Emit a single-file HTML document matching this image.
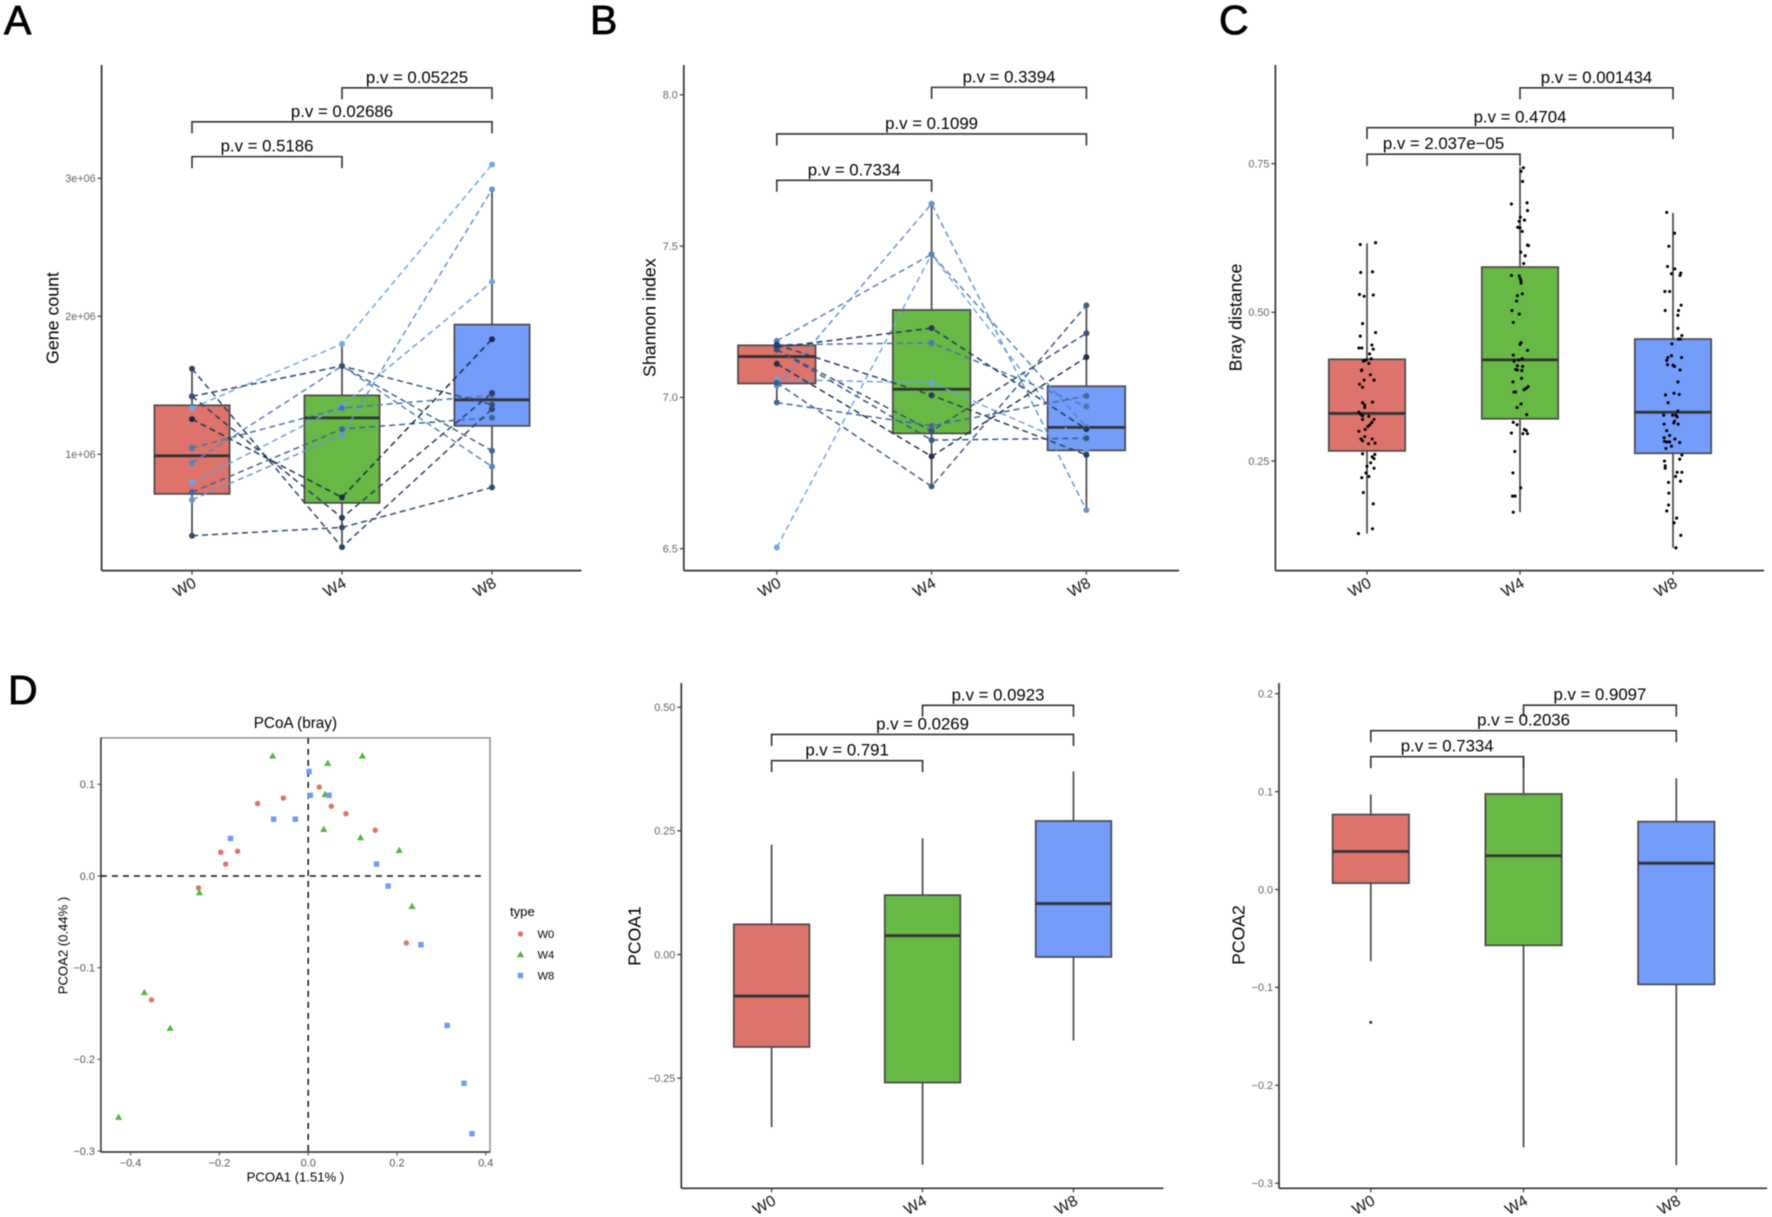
<!DOCTYPE html>
<html>
<head>
<meta charset="utf-8">
<title>Multi-panel gene count and PCoA figure</title>
<style>
html,body{margin:0;padding:0;background:#fff;}
svg{display:block;font-family:"Liberation Sans",Arial,sans-serif;filter:blur(0.4px);}
</style>
</head>
<body>
<svg id="chart" width="1772" height="1217" viewBox="0 0 1772 1217" xmlns="http://www.w3.org/2000/svg">
<rect x="0" y="0" width="1772" height="1217" fill="#fff"/>
<g font-size="41" fill="#000" stroke="#000" stroke-width="0.8">
<text x="4" y="34">A</text>
<text x="590" y="34">B</text>
<text x="1219" y="34">C</text>
<text x="8" y="704">D</text>
</g>
</svg>
<script>
const categories = ['W0','W4','W8'];
const bracketPairs = [[0,1],[0,2],[1,2]];

/* Panel A: Gene count */
const aTickValues = [1000000,2000000,3000000];
const aTickLabels = ['1e+06','2e+06','3e+06'];
const aLow = [410000,327000,760000];
const aQ1 = [713000,648000,1206000];
const aMedian = [989000,1264000,1395000];
const aQ3 = [1355000,1427000,1940000];
const aHigh = [1620000,1800000,2920000];
const aBracketLevels = [3157000,3409000,3656000];
const aBracketLabels = ['p.v = 0.5186','p.v = 0.02686','p.v = 0.05225'];
const aSeriesW0 = [1335000,670000,794000,937000,1420000,1046000,725000,1620000,1420000,1255000,410000,1420000];
const aSeriesW4 = [1800000,1140000,1352000,1640000,1640000,1335000,1183000,327000,540000,688000,470000,1640000];
const aSeriesW8 = [3100000,2920000,2250000,911000,1026000,1427000,1266000,1327000,1444000,1834000,760000,1360000];
const aShade = [1,0.85,0.95,0.7,0.45,0.6,0.45,0.2,0.15,0,0.25,0.3];

/* Panel B: Shannon index */
const bTickValues = [6.5,7,7.5,8];
const bTickLabels = ['6.5','7.0','7.5','8.0'];
const bLow = [6.983,6.706,6.628];
const bQ1 = [7.046,6.881,6.825];
const bMedian = [7.135,7.027,6.901];
const bQ3 = [7.172,7.289,7.037];
const bHigh = [7.187,7.64,7.304];
const bBracketLevels = [7.7175,7.8705,8.0245];
const bBracketLabels = ['p.v = 0.7334','p.v = 0.1099','p.v = 0.3394'];
const bSeriesW0 = [6.504,7.059,7.187,7.039,7.174,7.166,7.111,7.158,7.158,7.048,6.983,7.174];
const bSeriesW4 = [7.473,7.048,7.473,7.64,7.18,7.229,6.805,6.859,6.889,6.706,6.906,7.007];
const bSeriesW8 = [6.81,6.824,6.902,6.628,6.97,6.895,7.133,6.865,7.212,7.304,7.005,6.81];
const bShade = [1,0.95,0.7,0.85,0.6,0.1,0.05,0.35,0.3,0.4,0.5,0.15];

/* Panel C: Bray distance */
const cTickValues = [0.25,0.5,0.75];
const cTickLabels = ['0.25','0.50','0.75'];
const cLow = [0.128,0.164,0.104];
const cQ1 = [0.267,0.321,0.263];
const cMedian = [0.33,0.42,0.332];
const cQ3 = [0.421,0.576,0.455];
const cHigh = [0.616,0.744,0.667];
const cBracketLevels = [0.7658,0.8104,0.8774];
const cBracketLabels = ['p.v = 2.037e\u221205','p.v = 0.4704','p.v = 0.001434'];
const cValuesW0 = [.614,.617,.567,.568,.530,.527,.529,.481,.466,.460,.445,.440,.440,.438,.430,.422,.418,.419,.420,.414,.403,.402,.395,.386,.386,.379,.374,.348,.344,.349,.340,.332,.328,.325,.326,.320,.320,.315,.311,.308,.303,.300,.291,.287,.284,.287,.279,.280,.262,.261,.257,.254,.247,.241,.238,.230,.224,.222,.197,.178,.136,.128];
const cJitterW0 = [-.044,.056,-.041,.036,-.049,-.019,.041,-.029,.056,-.044,.032,-.053,-.034,.041,.017,.027,-.024,-.015,-.005,.012,-.034,-.036,.022,-.019,.046,-.049,-.029,-.029,-.015,.036,-.015,-.053,-.039,.012,-.029,-.029,.046,.032,.019,.005,-.012,-.053,-.015,-.039,-.029,.034,.010,.053,-.029,.051,.034,.046,.024,0,.046,-.007,.012,-.034,-.024,.041,.036,-.056];
const cValuesW4 = [.743,.737,.720,.682,.684,.671,.660,.653,.655,.643,.642,.636,.613,.612,.601,.595,.582,.562,.561,.556,.552,.549,.531,.528,.519,.503,.497,.483,.449,.446,.436,.428,.422,.418,.420,.410,.409,.404,.403,.402,.383,.389,.375,.372,.370,.366,.366,.346,.340,.328,.315,.311,.297,.303,.301,.296,.296,.266,.230,.205,.191,.191,.164];
const cJitterW4 = [.022,.007,.017,-.056,.046,.049,.002,-.005,.029,-.015,0,.015,.049,.056,.005,.034,.024,-.056,-.005,.002,.007,.007,.015,-.017,-.022,-.053,-.005,-.044,.007,0,.049,-.044,.015,-.039,-.007,-.017,.017,-.029,-.017,.012,-.046,.010,.053,.039,.027,-.029,-.039,.007,-.019,.044,-.044,-.019,-.056,.029,.041,.019,.049,-.034,-.046,.005,-.049,-.032,-.044];
const cValuesW8 = [.668,.633,.611,.577,.573,.565,.566,.562,.535,.535,.512,.503,.503,.495,.473,.461,.455,.455,.447,.427,.424,.424,.419,.412,.411,.409,.403,.383,.364,.361,.362,.348,.334,.327,.327,.327,.324,.317,.314,.312,.312,.301,.293,.289,.287,.283,.282,.282,.281,.275,.271,.260,.253,.250,.242,.238,.231,.231,.224,.216,.214,.196,.176,.166,.154,.146,.125,.104];
const cJitterW8 = [-.041,.010,-.027,-.036,.012,-.010,.051,.046,-.053,-.022,.053,-.051,.036,.032,.032,.058,.036,.049,-.007,-.010,-.034,.056,-.041,-.036,0,.010,.046,.032,.007,-.049,.041,-.032,.032,-.061,-.002,.019,.027,.010,.005,-.058,.034,-.041,-.022,-.058,.012,-.056,-.041,-.022,.044,-.010,-.046,.058,.044,-.056,-.051,-.051,.027,.058,.017,.049,-.029,-.027,-.029,-.041,.024,.007,.051,.019];

/* Panel D: PCoA scatter */
const dXTickValues = [-0.4,-0.2,0,0.2,0.4];
const dXTickLabels = ['\u22120.4','\u22120.2','0.0','0.2','0.4'];
const dYTickValues = [-0.3,-0.2,-0.1,0,0.1];
const dYTickLabels = ['\u22120.3','\u22120.2','\u22120.1','0.0','0.1'];
const dW0X = [.025,-.056,-.114,.052,.085,.151,-.197,-.159,-.186,-.247,.221,-.353];
const dW0Y = [.097,.085,.079,.076,.068,.050,.026,.027,.013,-.013,-.073,-.135];
const dW4X = [-.080,.044,.122,.038,.035,.118,.205,-.245,.234,-.369,-.311,-.427];
const dW4Y = [.131,.123,.131,.089,.051,.042,.028,-.018,-.033,-.127,-.166,-.263];
const dW8X = [.002,.005,.047,-.078,-.029,-.175,.154,.180,.254,.313,.351,.369];
const dW8Y = [.114,.088,.088,.062,.062,.041,.013,-.011,-.075,-.163,-.226,-.281];

/* Panel E: PCOA1 */
const eTickValues = [-0.25,0,0.25,0.5];
const eTickLabels = ['\u22120.25','0.00','0.25','0.50'];
const eLow = [-0.349,-0.425,-0.174];
const eQ1 = [-0.187,-0.259,-0.005];
const eMedian = [-0.084,0.038,0.103];
const eQ3 = [0.061,0.12,0.27];
const eHigh = [0.222,0.235,0.37];
const eBracketLevels = [0.392,0.445,0.504];
const eBracketLabels = ['p.v = 0.791','p.v = 0.0269','p.v = 0.0923'];

/* Panel F: PCOA2 */
const fTickValues = [-0.3,-0.2,-0.1,0,0.1,0.2];
const fTickLabels = ['\u22120.3','\u22120.2','\u22120.1','0.0','0.1','0.2'];
const fLow = [-0.0733,-0.2634,-0.2816];
const fQ1 = [0.0065,-0.057,-0.0969];
const fMedian = [0.0388,0.0345,0.0269];
const fQ3 = [0.0766,0.0976,0.0693];
const fHigh = [0.097,0.1357,0.1136];
const fOutlierCategory = [0];
const fOutlierValue = [-0.1357];
const fBracketLevels = [0.1357,0.1622,0.1883];
const fBracketLabels = ['p.v = 0.7334','p.v = 0.2036','p.v = 0.9097'];

const FILLS = ['#DD736A','#67B845','#739CFB'];
const NS = 'http://www.w3.org/2000/svg';
const root = document.getElementById('chart');

function make(parent, tag, name, attrs, txt) {
  const el = document.createElementNS(NS, tag);
  
  
  for (const k in attrs) el.setAttribute(k, attrs[k]);
  if (txt !== undefined) el.textContent = txt;
  parent.appendChild(el);
  return el;
}

function shadeColor(t) {
  const lo = [28,44,72], hi = [112,168,236];
  const c = lo.map((v,i) => Math.round(v + (hi[i]-v)*t));
  return 'rgb(' + c.join(',') + ')';
}

function scales(cfg) {
  return {
    x: i => cfg.x0 + i*cfg.dx,
    y: v => cfg.yRef - (v - cfg.vRef)*cfg.k
  };
}

function drawAxes(g, cfg, s, tickValues, tickLabels) {
  tickValues.forEach((v,i) => {
    const y = s.y(v);
    make(g,'line','y-axis-tick',{x1:cfg.left-4,x2:cfg.left,y1:y,y2:y,stroke:'#444','stroke-width':1.3});
    make(g,'text','y-tick-label',{x:cfg.left-6,y:y+3.8,'text-anchor':'end','font-size':10.8,fill:'#666'},tickLabels[i]);
  });
  categories.forEach((c,i) => {
    const x = s.x(i);
    make(g,'line','x-axis-tick',{x1:x,x2:x,y1:cfg.bottom,y2:cfg.bottom+4,stroke:'#444','stroke-width':1.3});
    const cx = x-7.5, cy = cfg.bottom+16.5;
    make(g,'text','x-tick-label',{x:cx,y:cy+5.5,'text-anchor':'middle','font-size':15.5,fill:'#111',transform:'rotate(-30 '+cx+' '+cy+')'},c);
  });
  make(g,'line','y-axis-line',{x1:cfg.left,x2:cfg.left,y1:cfg.top,y2:cfg.bottom,stroke:'#333','stroke-width':1.7});
  make(g,'line','x-axis-line',{x1:cfg.left,x2:cfg.right,y1:cfg.bottom,y2:cfg.bottom,stroke:'#333','stroke-width':1.7});
  make(g,'text','y-axis-title',{x:cfg.titleX,y:cfg.titleY+6,'text-anchor':'middle','font-size':cfg.titleSize,fill:'#000',transform:'rotate(-90 '+cfg.titleX+' '+cfg.titleY+')'},cfg.title);
}

function drawBoxes(g, cfg, s, low, q1, med, q3, high) {
  categories.forEach((c,i) => {
    const x = s.x(i), hw = cfg.boxHalf;
    const b = make(g,'g','box-'+c.toLowerCase(),{});
    make(b,'line','whisker-upper',{x1:x,x2:x,y1:s.y(high[i]),y2:s.y(q3[i]),stroke:'#4a4a4a','stroke-width':1.7});
    make(b,'line','whisker-lower',{x1:x,x2:x,y1:s.y(q1[i]),y2:s.y(low[i]),stroke:'#4a4a4a','stroke-width':1.7});
    make(b,'rect','box-body',{x:x-hw,y:s.y(q3[i]),width:2*hw,height:s.y(q1[i])-s.y(q3[i]),fill:FILLS[i],stroke:'#4a4a4a','stroke-width':1.7});
    make(b,'line','median-line',{x1:x-hw,x2:x+hw,y1:s.y(med[i]),y2:s.y(med[i]),stroke:'#333','stroke-width':2.8});
  });
}

function drawBrackets(g, cfg, s, levels, labels) {
  bracketPairs.forEach((p,i) => {
    const x1 = s.x(p[0]), x2 = s.x(p[1]), y = s.y(levels[i]);
    const b = make(g,'g','significance-bracket',{});
    make(b,'path','bracket-line',{d:'M'+x1+' '+(y+11.5)+'V'+y+'H'+x2+'V'+(y+11.5),fill:'none',stroke:'#333','stroke-width':1.6});
    make(b,'text','p-value-label',{x:(x1+x2)/2,y:y-5,'text-anchor':'middle','font-size':16.8,fill:'#000'},labels[i]);
  });
}

function drawPaired(g, s, w0, w4, w8, shade) {
  const n = Math.min(w0.length,w4.length,w8.length,shade.length);
  for (let i=0;i<n;i++) {
    const col = shadeColor(shade[i]);
    const vals = [w0[i],w4[i],w8[i]];
    const d = vals.map((v,j) => (j?'L':'M')+s.x(j)+' '+s.y(v)).join('');
    make(g,'path','paired-sample-line',{d:d,fill:'none',stroke:col,'stroke-width':1.5,'stroke-dasharray':'6 4'});
  }
  for (let i=0;i<n;i++) {
    const col = shadeColor(shade[i]);
    const vals = [w0[i],w4[i],w8[i]];
    vals.forEach((v,j) => {
      make(g,'circle','sample-point',{cx:s.x(j),cy:s.y(v),r:3,fill:col});
    });
  }
}

/* Panel A */
(function(){
  const cfg = {left:101.6,right:581.5,top:65,bottom:570.6,x0:192,dx:150,yRef:454.3,vRef:1000000,k:138/1000000,boxHalf:37.6,title:'Gene count',titleX:52.7,titleY:318,titleSize:17.8};
  const g = make(root,'g','panel-a-gene-count',{});
  const s = scales(cfg);
  drawBoxes(g,cfg,s,aLow,aQ1,aMedian,aQ3,aHigh);
  drawPaired(g,s,aSeriesW0,aSeriesW4,aSeriesW8,aShade);
  drawBrackets(g,cfg,s,aBracketLevels,aBracketLabels);
  drawAxes(g,cfg,s,aTickValues,aTickLabels);
})();

/* Panel B */
(function(){
  const cfg = {left:683.8,right:1179,top:65,bottom:570.6,x0:776.8,dx:154.8,yRef:397.4,vRef:7,k:302.6,boxHalf:38.8,title:'Shannon index',titleX:649.3,titleY:317.7,titleSize:17.8};
  const g = make(root,'g','panel-b-shannon-index',{});
  const s = scales(cfg);
  drawBoxes(g,cfg,s,bLow,bQ1,bMedian,bQ3,bHigh);
  drawPaired(g,s,bSeriesW0,bSeriesW4,bSeriesW8,bShade);
  drawBrackets(g,cfg,s,bBracketLevels,bBracketLabels);
  drawAxes(g,cfg,s,bTickValues,bTickLabels);
})();

/* Panel C */
(function(){
  const cfg = {left:1275.4,right:1764,top:65,bottom:570.6,x0:1367,dx:153,yRef:461,vRef:0.25,k:594.8,boxHalf:38.2,title:'Bray distance',titleX:1235.3,titleY:317.5,titleSize:17.8};
  const g = make(root,'g','panel-c-bray-distance',{});
  const s = scales(cfg);
  drawBoxes(g,cfg,s,cLow,cQ1,cMedian,cQ3,cHigh);
  [[cValuesW0,cJitterW0],[cValuesW4,cJitterW4],[cValuesW8,cJitterW8]].forEach((pair,c) => {
    const n = Math.min(pair[0].length,pair[1].length);
    for (let i=0;i<n;i++) {
      make(g,'circle','jitter-point',{cx:s.x(c+pair[1][i]),cy:s.y(pair[0][i]),r:1.55,fill:'#000'});
    }
  });
  drawBrackets(g,cfg,s,cBracketLevels,cBracketLabels);
  drawAxes(g,cfg,s,cTickValues,cTickLabels);
})();

/* Panel D */
(function(){
  const L=100.9,R=490,T=737.9,B=1152;
  const X = v => 308.2 + v*444;
  const Y = v => 876 - v*916.8;
  const g = make(root,'g','panel-d-pcoa-scatter',{});
  make(g,'rect','plot-frame',{x:L,y:T,width:R-L,height:B-T,fill:'none',stroke:'#8f8f8f','stroke-width':1.5});
  make(g,'line','y-axis-line',{x1:L,x2:L,y1:T,y2:B,stroke:'#333','stroke-width':1.4});
  make(g,'line','x-axis-line',{x1:L,x2:R,y1:B,y2:B,stroke:'#333','stroke-width':1.4});
  make(g,'line','zero-hline',{x1:L,x2:485.5,y1:Y(0),y2:Y(0),stroke:'#111','stroke-width':1.5,'stroke-dasharray':'6 5'});
  make(g,'line','zero-vline',{x1:X(0),x2:X(0),y1:T,y2:B,stroke:'#111','stroke-width':1.5,'stroke-dasharray':'6 5'});
  dXTickValues.forEach((v,i) => {
    make(g,'line','x-axis-tick',{x1:X(v),x2:X(v),y1:B,y2:B+3.5,stroke:'#444','stroke-width':1});
    make(g,'text','x-tick-label',{x:X(v),y:1166.5,'text-anchor':'middle','font-size':10.9,fill:'#555'},dXTickLabels[i]);
  });
  dYTickValues.forEach((v,i) => {
    make(g,'line','y-axis-tick',{x1:L-3.5,x2:L,y1:Y(v),y2:Y(v),stroke:'#444','stroke-width':1});
    make(g,'text','y-tick-label',{x:L-6,y:Y(v)+3.8,'text-anchor':'end','font-size':10.9,fill:'#555'},dYTickLabels[i]);
  });
  function circle(p,name,cx,cy){ make(p,'circle',name,{cx:cx,cy:cy,r:2.7,fill:FILLS[0]}); }
  function tri(p,name,cx,cy){ make(p,'path',name,{d:'M'+cx+' '+(cy-3.6)+'L'+(cx+3.6)+' '+(cy+2.7)+'L'+(cx-3.6)+' '+(cy+2.7)+'Z',fill:'#52B83F'}); }
  function sq(p,name,cx,cy){ make(p,'rect',name,{x:cx-2.7,y:cy-2.7,width:5.4,height:5.4,fill:'#6F9BF8'}); }
  dW0X.forEach((v,i) => circle(g,'point-w0',X(v),Y(dW0Y[i])));
  dW4X.forEach((v,i) => tri(g,'point-w4',X(v),Y(dW4Y[i])));
  dW8X.forEach((v,i) => sq(g,'point-w8',X(v),Y(dW8Y[i])));
  make(g,'text','plot-title',{x:295.4,y:727.8,'text-anchor':'middle','font-size':15.3,fill:'#000'},'PCoA (bray)');
  make(g,'text','x-axis-title',{x:295.4,y:1181.6,'text-anchor':'middle','font-size':13.1,fill:'#000'},'PCOA1 (1.51% )');
  make(g,'text','y-axis-title',{x:63,y:945.5+4.5,'text-anchor':'middle','font-size':13.1,fill:'#000',transform:'rotate(-90 63 945.5)'},'PCOA2 (0.44% )');
  const leg = make(g,'g','legend',{});
  make(leg,'text','legend-title',{x:510,y:916,'font-size':13.1,fill:'#000'},'type');
  const keyY = [934,954.5,975.5];
  categories.forEach((c,i) => {
    if (i===0) circle(leg,'legend-key-w0',520.5,keyY[i]);
    if (i===1) tri(leg,'legend-key-w4',520.5,keyY[i]);
    if (i===2) sq(leg,'legend-key-w8',520.5,keyY[i]);
    make(leg,'text','legend-label-'+c.toLowerCase(),{x:537.5,y:keyY[i]+4,'font-size':11.2,fill:'#000'},c);
  });
})();

/* Panel E */
(function(){
  const cfg = {left:681.3,right:1163.4,top:683,bottom:1188.3,x0:771.6,dx:150.95,yRef:954.5,vRef:0,k:494.5,boxHalf:37.8,title:'PCOA1',titleX:634.6,titleY:936,titleSize:17.6};
  const g = make(root,'g','panel-e-pcoa1',{});
  const s = scales(cfg);
  drawBoxes(g,cfg,s,eLow,eQ1,eMedian,eQ3,eHigh);
  drawBrackets(g,cfg,s,eBracketLevels,eBracketLabels);
  drawAxes(g,cfg,s,eTickValues,eTickLabels);
})();

/* Panel F */
(function(){
  const cfg = {left:1279,right:1767,top:683,bottom:1188.3,x0:1370.8,dx:152.75,yRef:889.5,vRef:0,k:979,boxHalf:38.2,title:'PCOA2',titleX:1238.3,titleY:935,titleSize:17.6};
  const g = make(root,'g','panel-f-pcoa2',{});
  const s = scales(cfg);
  drawBoxes(g,cfg,s,fLow,fQ1,fMedian,fQ3,fHigh);
  fOutlierValue.forEach((v,i) => {
    make(g,'circle','outlier-point',{cx:s.x(fOutlierCategory[i]),cy:s.y(v),r:1.5,fill:'#333'});
  });
  drawBrackets(g,cfg,s,fBracketLevels,fBracketLabels);
  drawAxes(g,cfg,s,fTickValues,fTickLabels);
})();
</script>
</body>
</html>
